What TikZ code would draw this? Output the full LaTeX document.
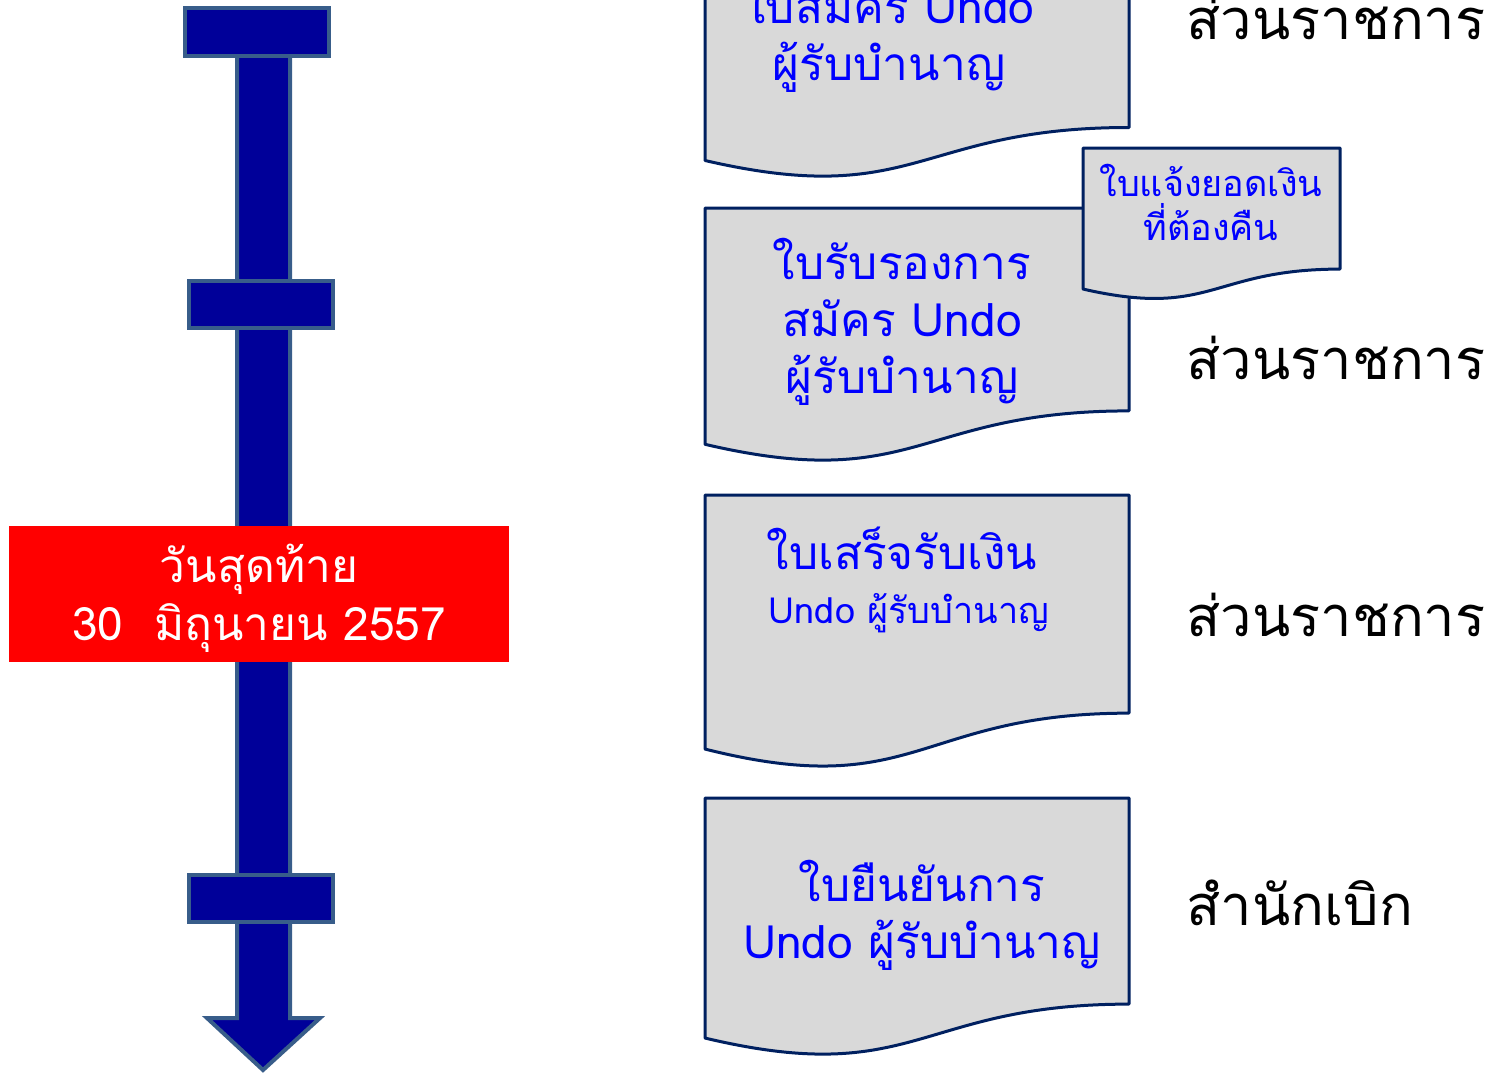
\documentclass[tikz,border=0pt]{standalone}
\usepackage{fontspec}
\newfontfamily\thaifont[Script=Thai]{Loma}
\usetikzlibrary{positioning}
\definecolor{barblue}{RGB}{0,0,153}
\definecolor{baredge}{RGB}{56,93,138}
\definecolor{docgray}{RGB}{217,217,217}
\definecolor{docedge}{RGB}{0,32,96}
\definecolor{textblue}{RGB}{0,0,255}
\definecolor{datered}{RGB}{255,0,0}
% document shape: left, right, top, height
\newcommand{\docshape}[4]{%
  \filldraw[doc] (#1,#3) -- (#2,#3) -- (#2,{#3+0.802*#4})
    .. controls ({(#1+#2)/2},{#3+0.802*#4}) and ({(#1+#2)/2},{#3+1.13*#4}) .. (#1,{#3+0.934*#4}) -- cycle;}

\begin{document}
\begin{tikzpicture}[x=1pt, y=-1pt,
    bar/.style={fill=barblue, draw=baredge, line width=4pt},
    doc/.style={fill=docgray, draw=docedge, line width=3pt, line join=round},
    doctext/.style={textblue, align=center, font=\thaifont\fontsize{46}{57}\selectfont},
    smalltext/.style={textblue, align=center, font=\thaifont\fontsize{36}{44}\selectfont},
    office/.style={anchor=west, font=\thaifont\fontsize{56}{66}\selectfont}]
  \useasboundingbox (0,0) rectangle (1510,1073);

  % Timeline
  \draw[bar] (237,40) -- (290,40) -- (290,1018) -- (320,1018) -- (263,1070)
    -- (207,1018) -- (237,1018) -- cycle;
  \draw[bar] (185,8) rectangle (329,56);
  \draw[bar] (189,281) rectangle (333,328);
  \draw[bar] (189,875) rectangle (333,922);

  \node[fill=datered, minimum width=500pt, minimum height=136pt] (deadline) at (259,594) {};
  \node[text=white, align=center, font=\thaifont\fontsize{46}{58}\selectfont]
    (deadlinetext) at (259,598) {วันสุดท้าย\\30~~มิถุนายน 2557};

  % Documents
  \docshape{705}{1129}{-73}{250}
  \node[doctext] (apply) at (889,37) {ใบสมัคร Undo\\ผู้รับบำนาญ};

  \docshape{705}{1129}{208}{253}
  \node[doctext] (certify) at (902,322) {ใบรับรองการ\\สมัคร Undo\\ผู้รับบำนาญ};

  \docshape{1083}{1340}{148}{151}
  \node[smalltext] (refund) at (1211,202) {ใบแจ้งยอดเงิน\\ที่ต้องคืน};

  \docshape{705}{1129}{495}{272}
  \node[doctext] (receipt) at (902,548) {ใบเสร็จรับเงิน};
  \node[smalltext] (receiptsub) at (909,613) {Undo ผู้รับบำนาญ};

  \docshape{705}{1129}{798}{257}
  \node[doctext] (confirm) at (922,915) {ใบยืนยันการ\\Undo ผู้รับบำนาญ};

  % Offices
  \node[office] (agency1) at (1183,18) {ส่วนราชการ};
  \node[office] (agency2) at (1183,358) {ส่วนราชการ};
  \node[office] (agency3) at (1183,615) {ส่วนราชการ};
  \node[office] (payer) at (1183,903) {สำนักเบิก};
\end{tikzpicture}
\end{document}
